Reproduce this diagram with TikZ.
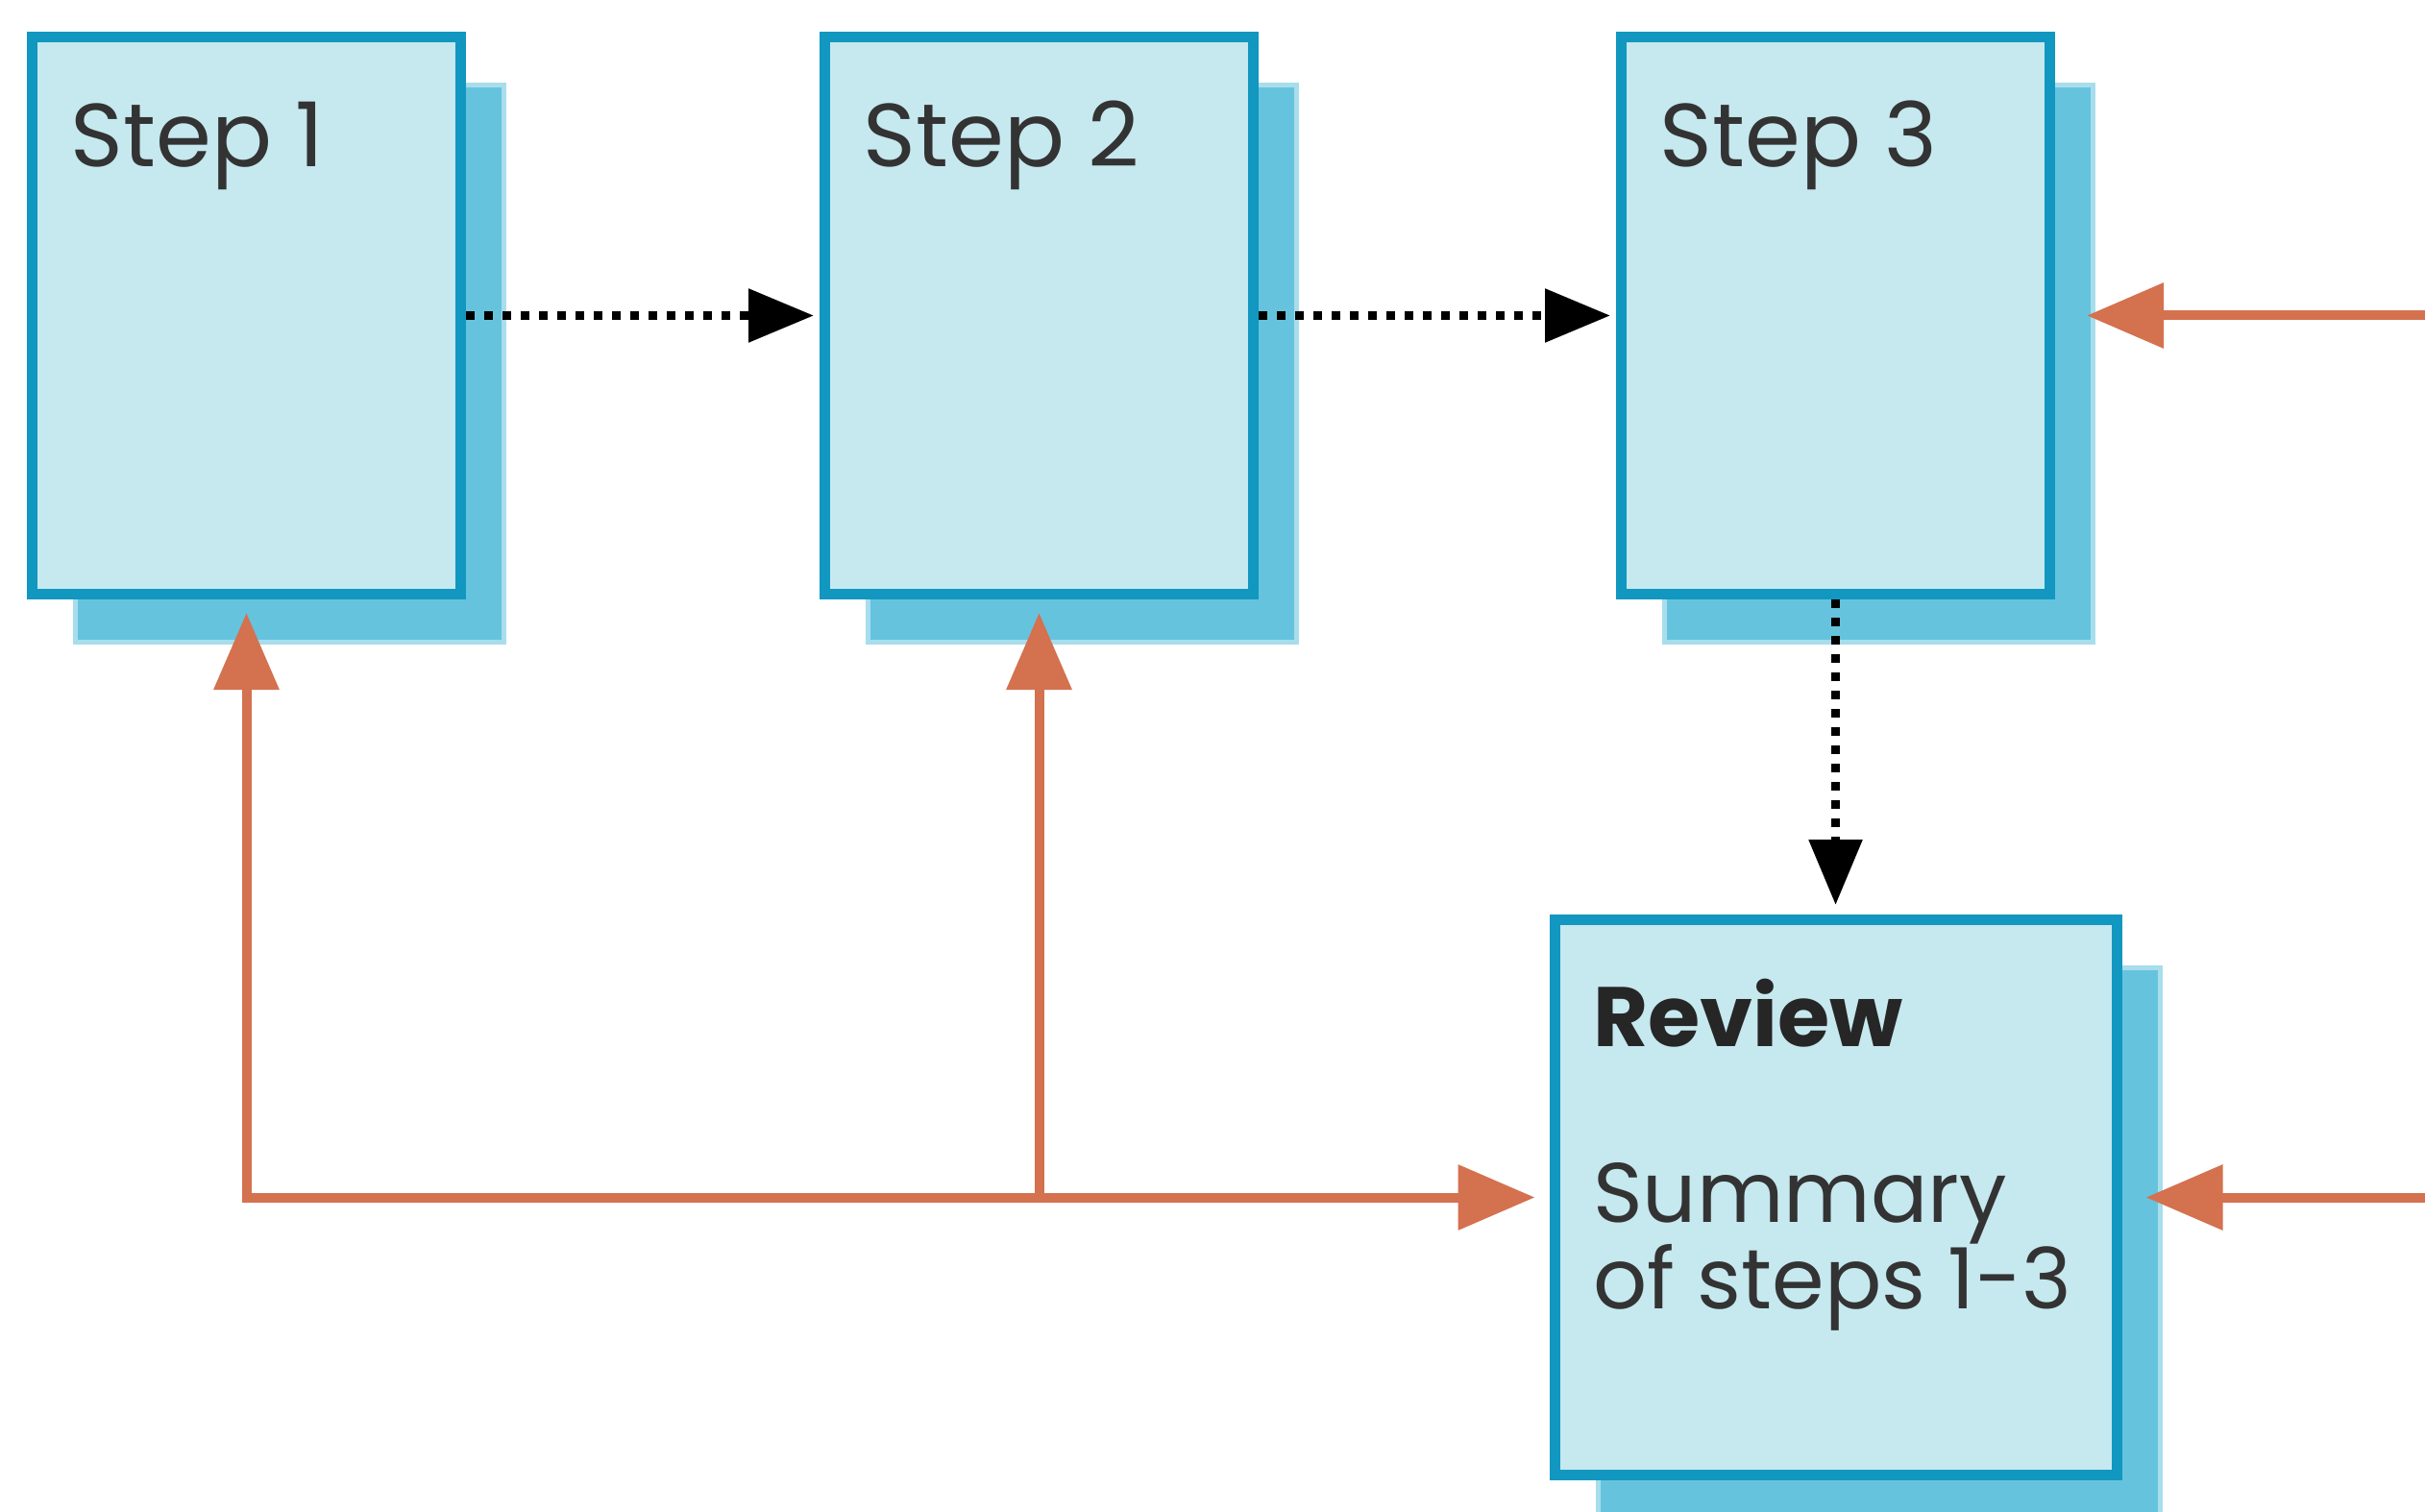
\documentclass[tikz,border=0pt]{standalone}
\usepackage{fontspec}
\setmainfont{Poppins}
\usetikzlibrary{positioning, arrows.meta, shadows}

\definecolor{boxfill}{HTML}{C6E8EF}
\definecolor{boxline}{HTML}{1197C0}
\definecolor{shadowblue}{HTML}{66C3DE}
\definecolor{shadowlight}{HTML}{A8DDEC}
\definecolor{accent}{HTML}{D4714F}
\definecolor{ink}{HTML}{333333}

\begin{document}
\begin{tikzpicture}[
  node distance=3.7cm,
  stepbox/.style={draw=boxline, fill=boxfill, line width=0.11cm, inner sep=0pt,
    minimum width=4.46cm, minimum height=5.8cm,
    drop shadow={shadow xshift=0.45cm, shadow yshift=-0.5cm, fill=shadowblue,
      draw=shadowlight, line width=0.05cm, opacity=1}},
  steptext/.style={font=\fontsize{26.5}{26}\selectfont, text=ink, inner sep=0pt, anchor=base west},
  flow/.style={draw=black, line width=0.09cm, dash pattern=on 0.09cm off 0.1cm,
    -{Triangle[length=0.68cm, width=0.54cm]}},
  feedback/.style={draw=accent, line width=0.1cm, >={Triangle[length=0.8cm, width=0.66cm]}, ->}
]
  \useasboundingbox (0,0) rectangle (25.24,-15.74);

  % the three steps and the review
  \node[stepbox] (step1) at (2.565,-3.285) {};
  \node[stepbox, right=3.68cm of step1] (step2) {};
  \node[stepbox, right=3.72cm of step2] (step3) {};
  \node[stepbox, minimum width=5.85cm, minimum height=5.78cm, below=3.28cm of step3] (review) {};

  \node[steptext] (title1) at ([shift={(0.45,-1.41)}]step1.north west) {Step 1};
  \node[steptext] (title2) at ([shift={(0.45,-1.41)}]step2.north west) {Step 2};
  \node[steptext] (title3) at ([shift={(0.45,-1.41)}]step3.north west) {Step 3};
  \node[steptext, font=\fontsize{25}{26}\selectfont\bfseries, text=black!85] (titlereview)
    at ([shift={(0.45,-1.37)}]review.north west) {Review};
  \node[steptext, font=\fontsize{25}{26}\selectfont] (summary1)
    at ([shift={(0.45,-3.2)}]review.north west) {Summary};
  \node[steptext, font=\fontsize{25}{26}\selectfont] (summary2)
    at ([shift={(0.45,-4.1)}]review.north west) {of steps 1-3};

  % dotted flow
  \draw[flow, shorten >=0.06cm] (step1.east) -- (step2.west);
  \draw[flow, shorten >=0.06cm] (step2.east) -- (step3.west);
  \draw[flow, shorten >=0.1cm] (step3.south) -- (review.north);

  % feedback lines
  \coordinate (edge) at (25.3,0);
  \draw[feedback, shorten >=0.33cm] (edge |- step3.east) -- (step3.east);
  \draw[feedback, shorten >=0.25cm] (edge |- review.east) -- (review.east);
  \draw[feedback, <->, shorten <=0.14cm, shorten >=0.15cm] (step1.south) |- (review.west);
  \draw[feedback, shorten >=0.14cm] (step2.south |- review.west) -- (step2.south);
\end{tikzpicture}
\end{document}
